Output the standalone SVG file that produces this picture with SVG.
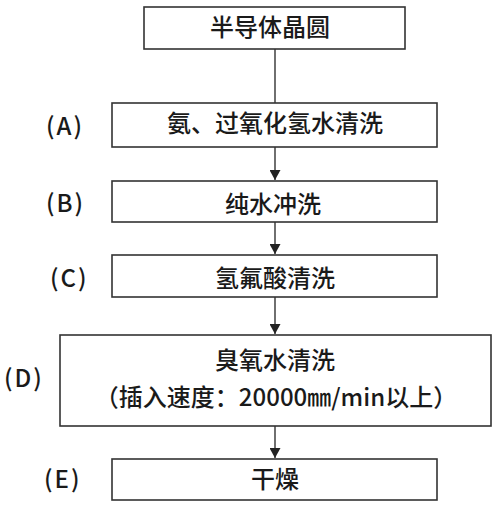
<svg xmlns="http://www.w3.org/2000/svg" width="500" height="507" viewBox="0 0 500 507">
<style>
.box{fill:#fff;stroke:#333;stroke-width:1.6}
.t{font-family:"Noto Sans CJK SC","Noto Sans CJK JP",sans-serif;font-size:24px;font-weight:500;fill:#1a1a1a;text-anchor:middle}
.lb{font-family:"Noto Sans CJK SC","Noto Sans CJK JP",sans-serif;font-size:24px;font-weight:500;fill:#1a1a1a;letter-spacing:2px}
.c{stroke:#333;stroke-width:1.4;fill:none}
</style>
<defs>
<marker id="ah" markerUnits="userSpaceOnUse" markerWidth="11" markerHeight="11" refX="10" refY="5.5" orient="auto">
<path d="M0,0 L10,5.5 L0,11 z" fill="#222"/>
</marker>
</defs>
<rect width="500" height="507" fill="#fff"/>
<g id="connectors">
<line class="c" x1="275" y1="49" x2="275" y2="103"/>
<line class="c" x1="275" y1="147" x2="275" y2="180" marker-end="url(#ah)"/>
<line class="c" x1="275" y1="222" x2="275" y2="254" marker-end="url(#ah)"/>
<line class="c" x1="275" y1="297" x2="275" y2="334" marker-end="url(#ah)"/>
<line class="c" x1="275" y1="426" x2="275" y2="458" marker-end="url(#ah)"/>
</g>
<g id="wafer">
<rect class="box" x="144" y="7" width="261" height="42"/>
<text class="t" x="270" y="36">半导体晶圆</text>
</g>
<g id="stepA">
<rect class="box" x="112" y="103" width="325" height="44"/>
<text class="t" x="275" y="132">氨、过氧化氢水清洗</text>
<text class="lb" x="46" y="135">(A)</text>
</g>
<g id="stepB">
<rect class="box" x="112" y="181" width="325" height="41"/>
<text class="t" x="273" y="213">纯水冲洗</text>
<text class="lb" x="46" y="212">(B)</text>
</g>
<g id="stepC">
<rect class="box" x="112" y="255" width="325" height="42"/>
<text class="t" x="275" y="287">氢氟酸清洗</text>
<text class="lb" x="50" y="287">(C)</text>
</g>
<g id="stepD">
<rect class="box" x="60" y="335" width="431" height="91"/>
<text class="t" x="275" y="369">臭氧水清洗</text>
<text class="t" x="276" y="406">（插入速度：20000㎜/min以上）</text>
<text class="lb" x="4" y="387">(D)</text>
</g>
<g id="stepE">
<rect class="box" x="112" y="459" width="325" height="41"/>
<text class="t" x="275" y="488">干燥</text>
<text class="lb" x="44" y="488">(E)</text>
</g>
</svg>
